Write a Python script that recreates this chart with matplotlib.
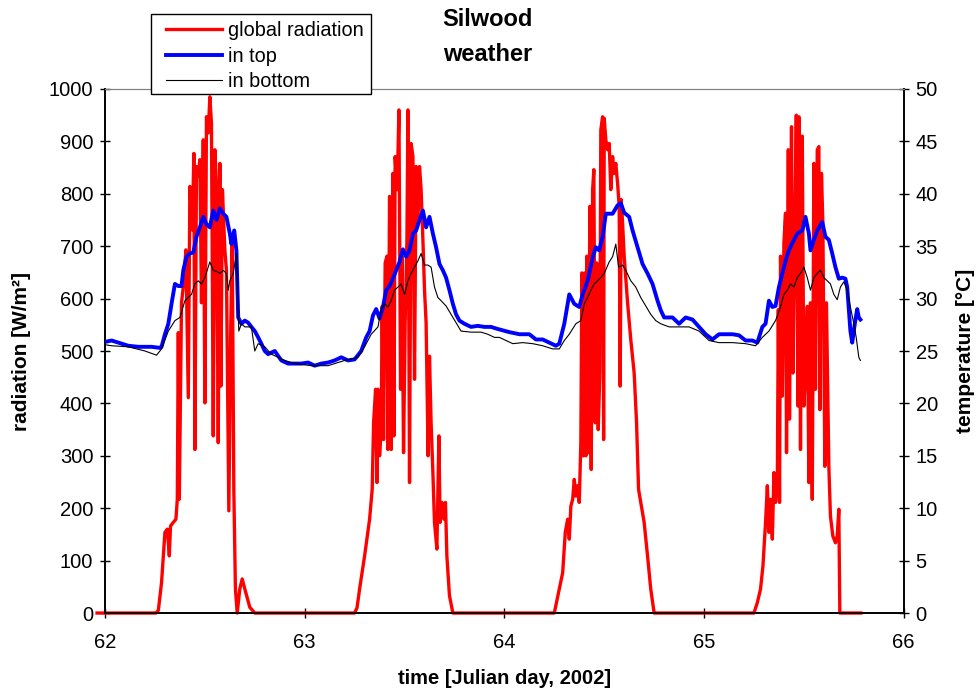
import numpy as np
import matplotlib
matplotlib.use('Agg')
import matplotlib.pyplot as plt
from matplotlib.patches import Rectangle

plt.rcParams['font.family'] = ['Liberation Sans', 'DejaVu Sans']

# global radiation [W/m2] against julian day
rad_day = [61.96, 62.255, 62.267, 62.283, 62.300, 62.312, 62.322, 62.328, 62.342, 62.355, 62.362,
           62.367, 62.372, 62.383, 62.392, 62.405, 62.417, 62.425, 62.437, 62.445, 62.450, 62.458,
           62.467, 62.475, 62.483, 62.492, 62.500, 62.508, 62.517, 62.525, 62.533, 62.542, 62.550,
           62.558, 62.567, 62.575, 62.580, 62.588, 62.600, 62.608, 62.620, 62.630, 62.637, 62.645,
           62.653, 62.662, 62.675, 62.687, 62.700, 62.725, 62.750,
           63.250, 63.262, 63.275, 63.300, 63.325, 63.338, 63.345, 63.355, 63.362, 63.367, 63.375,
           63.383, 63.388, 63.395, 63.403, 63.412, 63.417, 63.425, 63.433, 63.442, 63.447, 63.453,
           63.463, 63.472, 63.480, 63.487, 63.495, 63.503, 63.512, 63.517, 63.525, 63.533, 63.542,
           63.550, 63.558, 63.567, 63.575, 63.583, 63.592, 63.600, 63.608, 63.618, 63.625, 63.633,
           63.642, 63.650, 63.662, 63.672, 63.678, 63.688, 63.697, 63.705, 63.712, 63.725, 63.742,
           64.250, 64.275, 64.292, 64.305, 64.317, 64.325, 64.333, 64.342, 64.350, 64.358, 64.367,
           64.375, 64.383, 64.388, 64.395, 64.402, 64.408, 64.413, 64.422, 64.428, 64.435, 64.442,
           64.448, 64.455, 64.463, 64.470, 64.478, 64.483, 64.492, 64.497, 64.500, 64.508, 64.517,
           64.525, 64.533, 64.542, 64.550, 64.558, 64.567, 64.575, 64.580, 64.585, 64.592, 64.600,
           64.617, 64.633, 64.650, 64.662, 64.672, 64.683, 64.700, 64.717, 64.733, 64.750,
           65.250, 65.267, 65.283, 65.295, 65.308, 65.317, 65.325, 65.333, 65.342, 65.350, 65.358,
           65.367, 65.372, 65.378, 65.383, 65.392, 65.400, 65.408, 65.413, 65.422, 65.428, 65.438,
           65.445, 65.453, 65.462, 65.470, 65.475, 65.483, 65.492, 65.500, 65.508, 65.517, 65.525,
           65.533, 65.542, 65.550, 65.558, 65.567, 65.575, 65.580, 65.588, 65.595, 65.605, 65.613,
           65.625, 65.633, 65.645, 65.658, 65.667, 65.675, 65.680, 65.785]
rad_val = [0, 0, 5, 58, 154, 160, 109, 166, 173, 179, 217,
           535, 217, 592, 623, 693, 411, 814, 731, 877, 312, 852,
           833, 865, 592, 903, 401, 947, 916, 985, 935, 338, 884,
           820, 325, 858, 433, 808, 693, 655, 195, 554, 712, 236,
           46, 0, 46, 65, 46, 11, 0,
           0, 10, 46, 109, 179, 236, 363, 427, 249, 427, 300,
           350, 585, 331, 668, 681, 312, 795, 312, 839, 338, 871,
           808, 960, 427, 681, 306, 554, 712, 960, 249, 896, 871,
           446, 852, 744, 852, 808, 712, 617, 554, 300, 490, 363,
           268, 173, 122, 338, 173, 211, 179, 211, 109, 33, 0,
           0, 46, 77, 154, 179, 141, 204, 217, 255, 223, 243,
           211, 325, 649, 300, 649, 300, 681, 306, 776, 274, 808,
           846, 363, 668, 350, 458, 922, 947, 331, 944, 903, 884,
           896, 808, 871, 839, 858, 820, 776, 433, 789, 744, 681,
           592, 522, 458, 363, 236, 211, 173, 109, 46, 0,
           0, 20, 46, 90, 173, 243, 154, 217, 141, 268, 211,
           249, 579, 211, 681, 414, 706, 763, 306, 884, 370, 928,
           458, 681, 950, 395, 947, 312, 910, 395, 458, 585, 249,
           592, 217, 858, 427, 884, 890, 388, 839, 744, 280, 592,
           280, 185, 147, 134, 147, 198, 0, 0]

# temperature in the top of the enclosure [deg C]
top_day = [61.963, 61.967, 61.983, 62.033, 62.083, 62.117, 62.167, 62.200, 62.233, 62.275, 62.283,
           62.300, 62.317, 62.333, 62.350, 62.367, 62.383, 62.392, 62.408, 62.425, 62.442, 62.458,
           62.475, 62.492, 62.508, 62.525, 62.542, 62.558, 62.575, 62.592, 62.608, 62.625, 62.633,
           62.647, 62.658, 62.667, 62.683, 62.700, 62.717, 62.733, 62.750, 62.767, 62.783, 62.800,
           62.817, 62.850, 62.883, 62.917, 62.950, 62.983, 63.017, 63.050, 63.083, 63.117, 63.150,
           63.183, 63.217, 63.250, 63.283, 63.308, 63.325, 63.342, 63.358, 63.375, 63.392, 63.408,
           63.425, 63.442, 63.458, 63.475, 63.492, 63.508, 63.525, 63.542, 63.558, 63.575, 63.592,
           63.608, 63.625, 63.642, 63.658, 63.675, 63.692, 63.708, 63.725, 63.742, 63.758, 63.775,
           63.800, 63.833, 63.867, 63.900, 63.933, 63.967,
           64.025, 64.075, 64.125, 64.158, 64.192, 64.225, 64.258, 64.275, 64.300, 64.325, 64.350,
           64.375, 64.392, 64.417, 64.442, 64.458, 64.475, 64.492, 64.508, 64.542, 64.567, 64.583,
           64.600, 64.625, 64.642, 64.667, 64.692, 64.717, 64.742, 64.767, 64.783, 64.800, 64.842,
           64.875, 64.908, 64.942, 64.975, 65.008, 65.042, 65.075, 65.108, 65.142, 65.175, 65.208,
           65.242, 65.267, 65.292, 65.308, 65.325, 65.342, 65.358, 65.375, 65.392, 65.408, 65.425,
           65.442, 65.467, 65.492, 65.508, 65.525, 65.533, 65.550, 65.567, 65.592, 65.608, 65.625,
           65.642, 65.658, 65.675, 65.692, 65.708, 65.717, 65.733, 65.742, 65.755, 65.767, 65.775,
           65.783]
top_val = [26.9, 26.0, 25.8, 26.0, 25.7, 25.5, 25.4, 25.4, 25.4, 25.3, 25.4,
           26.6, 27.6, 29.5, 31.4, 31.2, 31.2, 32.7, 34.0, 34.3, 34.4, 35.9,
           36.8, 37.8, 37.1, 36.8, 38.4, 37.5, 38.6, 38.1, 37.8, 36.2, 35.2,
           36.5, 34.6, 28.2, 27.6, 27.9, 27.7, 27.3, 26.9, 26.3, 25.7, 25.0,
           24.7, 25.0, 24.1, 23.8, 23.8, 23.8, 23.9, 23.6, 23.8, 23.9, 24.1,
           24.4, 24.1, 24.2, 25.0, 26.3, 26.9, 28.4, 29.0, 28.1, 29.2, 30.8,
           31.2, 31.9, 32.7, 33.5, 34.7, 34.0, 34.6, 36.2, 36.5, 37.5, 38.4,
           36.8, 37.8, 36.2, 34.9, 33.3, 32.7, 32.0, 30.8, 29.5, 28.5, 27.9,
           27.6, 27.3, 27.4, 27.3, 27.3, 27.1,
           26.8, 26.6, 26.6, 26.1, 26.1, 25.8, 25.5, 25.7, 27.6, 30.4, 29.5,
           29.2, 30.4, 31.7, 33.9, 34.9, 34.6, 35.9, 38.1, 38.1, 38.9, 39.1,
           38.2, 37.8, 36.5, 34.9, 33.3, 32.4, 31.4, 29.8, 28.9, 28.2, 28.2,
           27.6, 28.2, 28.0, 27.3, 26.6, 26.1, 26.6, 26.6, 26.6, 26.5, 26.0,
           26.0, 25.8, 27.3, 27.6, 29.8, 29.2, 29.3, 31.1, 32.4, 33.6, 34.6,
           35.3, 36.2, 36.5, 37.8, 36.2, 34.6, 35.6, 36.5, 37.3, 35.9, 35.6,
           34.3, 33.0, 31.9, 32.0, 31.9, 31.1, 26.9, 25.8, 27.6, 29.0, 28.2,
           28.0]

# temperature in the bottom of the enclosure [deg C]
bot_day = [61.967, 62.033, 62.117, 62.200, 62.258, 62.283, 62.317, 62.350, 62.375, 62.400, 62.433,
           62.450, 62.467, 62.483, 62.500, 62.525, 62.542, 62.558, 62.575, 62.592, 62.608, 62.617,
           62.625, 62.642, 62.658, 62.670, 62.683, 62.700, 62.733, 62.750, 62.767, 62.800, 62.833,
           62.867, 62.900, 62.950, 63.033, 63.117, 63.200, 63.267, 63.300, 63.333, 63.367, 63.383,
           63.400, 63.417, 63.433, 63.450, 63.467, 63.483, 63.500, 63.517, 63.533, 63.550, 63.567,
           63.583, 63.600, 63.617, 63.633, 63.650, 63.667, 63.683, 63.708, 63.733, 63.758, 63.783,
           63.833, 63.883, 63.917, 63.950, 63.975,
           64.008, 64.042, 64.092, 64.142, 64.192, 64.242, 64.275, 64.300, 64.325, 64.358, 64.383,
           64.400, 64.417, 64.433, 64.450, 64.467, 64.483, 64.500, 64.525, 64.542, 64.558, 64.572,
           64.592, 64.608, 64.633, 64.658, 64.683, 64.708, 64.733, 64.758, 64.783, 64.825, 64.875,
           64.925, 64.975, 65.025, 65.075, 65.142, 65.208, 65.258, 65.292, 65.325, 65.358, 65.383,
           65.400, 65.417, 65.433, 65.450, 65.467, 65.483, 65.500, 65.517, 65.533, 65.550, 65.567,
           65.583, 65.600, 65.617, 65.633, 65.650, 65.667, 65.683, 65.700, 65.717, 65.733, 65.750,
           65.762, 65.775, 65.783]
bot_val = [25.7, 25.5, 25.4, 25.0, 24.6, 25.2, 26.9, 27.9, 28.2, 29.8, 30.4,
           31.4, 31.7, 31.4, 32.0, 33.5, 32.7, 32.6, 32.4, 32.7, 32.4, 30.8,
           31.7, 32.4, 34.3, 26.9, 27.6, 27.3, 27.3, 25.0, 25.7, 25.4, 24.7,
           24.4, 24.1, 23.8, 23.6, 23.6, 24.1, 24.4, 25.4, 26.6, 27.3, 29.0,
           29.5, 29.2, 29.8, 30.8, 31.1, 31.4, 30.4, 31.7, 32.4, 33.0, 33.6,
           34.3, 33.2, 33.2, 33.0, 31.1, 30.1, 29.8, 29.3, 28.5, 27.7, 26.9,
           26.8, 26.8, 26.6, 26.3, 26.3,
           26.0, 25.7, 25.8, 25.7, 25.5, 25.2, 25.2, 26.0, 26.6, 27.6, 27.9,
           29.5, 30.1, 30.8, 31.4, 31.7, 32.0, 32.4, 33.5, 34.0, 35.2, 33.0,
           33.2, 32.7, 31.7, 31.1, 30.1, 29.3, 28.5, 27.9, 27.6, 27.3, 27.3,
           27.3, 26.9, 26.0, 25.8, 25.8, 25.7, 25.5, 26.3, 26.9, 27.9, 29.2,
           30.4, 30.8, 31.4, 31.1, 32.0, 32.4, 33.0, 32.0, 30.8, 32.0, 32.4,
           32.7, 32.0, 31.7, 31.4, 30.4, 29.9, 31.1, 31.6, 30.8, 29.2, 27.6,
           26.3, 24.4, 24.1]

W, H = 977, 693
fig = plt.figure(figsize=(W / 100, H / 100), dpi=100)
ax = fig.add_axes([0.1075, 0.1154, 0.8175, 0.7562])
ax2 = ax.twinx()

# radiation on the left axis, drawn underneath the temperatures
l1, = ax.plot(rad_day, rad_val, color='#ff0000', lw=2.4, clip_on=False, zorder=3)
l2, = ax2.plot(top_day, top_val, color='#0000ff', lw=2.8, zorder=3)
l3, = ax2.plot(bot_day, bot_val, color='black', lw=0.8, zorder=4)

ax.set_xlim(62, 66)
ax.set_ylim(0, 1000)
ax2.set_ylim(0, 50)
ax.set_xticks(np.arange(62, 67, 1))
ax.set_yticks(np.arange(0, 1001, 100))
ax2.set_yticks(np.arange(0, 51, 5))

ax.tick_params(axis='both', direction='inout', length=7, width=1, labelsize=14.5)
ax.tick_params(axis='x', pad=11)
ax.tick_params(axis='y', pad=5)
ax2.tick_params(axis='y', direction='inout', length=7, width=1, labelsize=14.5, pad=5)

for a in (ax, ax2):
    a.spines['top'].set_color('#808080')
    a.spines['left'].set_linewidth(1.2)
    a.spines['right'].set_linewidth(1.2)
    a.spines['bottom'].set_linewidth(1.2)

ax.set_xlabel('time [Julian day, 2002]', fontsize=14.5, fontweight='bold', labelpad=12)
ax.set_ylabel('radiation [W/m²]', fontsize=15, fontweight='bold', labelpad=13)
ax2.set_ylabel('temperature [°C]', fontsize=15, fontweight='bold', labelpad=13)

fig.text(0.499, 0.947, 'Silwood\nweather', ha='center', va='center', fontsize=17,
         fontweight='bold', linespacing=1.65)

# legend box: white filled frame sitting over the top of the plot area
fig.patches.append(Rectangle((151 / W, 1 - 94 / H), 220 / W, 80 / H, transform=fig.transFigure,
                             facecolor='white', edgecolor='black', lw=1.0, zorder=5))
leg = fig.legend([l1, l2, l3], ['global radiation', 'in top', 'in bottom'],
                 loc='upper left', bbox_to_anchor=(166 / W, 1 - 21 / H), fontsize=14.3,
                 frameon=False, handlelength=2.8, handletextpad=0.3, labelspacing=0.33,
                 borderpad=0, borderaxespad=0)
leg.set_zorder(6)

plt.savefig('out.png', dpi=100)
